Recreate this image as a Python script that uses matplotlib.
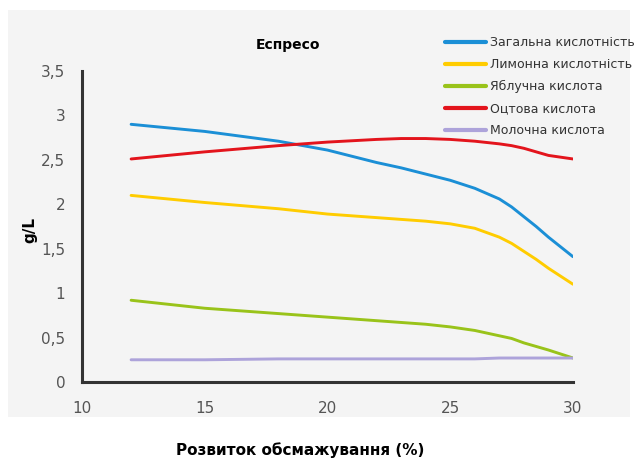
import matplotlib.pyplot as plt
from matplotlib.patches import Rectangle

# roast development (%) and acid content (g/L)
roast = [12, 15, 18, 20, 22, 23, 24, 25, 26, 27, 27.5, 28, 28.5, 29, 30]
total_acidity = [2.90, 2.82, 2.71, 2.61, 2.47, 2.41, 2.34, 2.27, 2.18, 2.06, 1.97, 1.86,
                 1.75, 1.63, 1.41]
citric_acid = [2.10, 2.02, 1.95, 1.89, 1.85, 1.83, 1.81, 1.78, 1.73, 1.63, 1.56, 1.47,
               1.38, 1.28, 1.10]
malic_acid = [0.92, 0.83, 0.77, 0.73, 0.69, 0.67, 0.65, 0.62, 0.58, 0.52, 0.49, 0.44,
              0.40, 0.36, 0.27]
acetic_acid = [2.51, 2.59, 2.66, 2.70, 2.73, 2.74, 2.74, 2.73, 2.71, 2.68, 2.66, 2.63,
               2.59, 2.55, 2.51]
lactic_acid = [0.25, 0.25, 0.26, 0.26, 0.26, 0.26, 0.26, 0.26, 0.26, 0.27, 0.27, 0.27,
               0.27, 0.27, 0.27]

labels = ["Загальна кислотність", "Лимонна кислотність", "Яблучна кислота",
          "Оцтова кислота", "Молочна кислота"]
colors = ["#1b8fd6", "#ffcc00", "#99c31a", "#e3141c", "#ada3da"]
xticks = [10, 15, 20, 25, 30]
yticks = [0, 0.5, 1, 1.5, 2, 2.5, 3, 3.5]
ytick_labels = ["0", "0,5", "1", "1,5", "2", "2,5", "3", "3,5"]

plt.rcParams["font.family"] = ["DejaVu Sans"]

fig = plt.figure(figsize=(6.36, 4.59), dpi=100)
fig.patch.set_facecolor("white")
# light grey panel behind the plot
fig.patches.append(Rectangle((8 / 636, 42 / 459), 622 / 636, 407 / 459,
                             transform=fig.transFigure, facecolor="#f4f4f4",
                             edgecolor="none", zorder=-5))

ax = fig.add_axes([82 / 636, 77 / 459, 491 / 636, 311 / 459])
ax.set_facecolor("none")

series = [total_acidity, citric_acid, malic_acid, acetic_acid, lactic_acid]
for ys, lab, c in zip(series, labels, colors):
    ax.plot(roast, ys, color=c, lw=2.1, label=lab,
            solid_joinstyle="round", solid_capstyle="round")

ax.set_xlim(10, 30)
ax.set_ylim(0, 3.5)
ax.set_xticks(xticks)
ax.set_yticks(yticks)
ax.set_yticklabels(ytick_labels)
ax.tick_params(length=0, labelsize=11, colors="#555555")
ax.tick_params(axis="x", pad=14)
ax.tick_params(axis="y", pad=12)
for side in ["top", "right"]:
    ax.spines[side].set_visible(False)
for side in ["left", "bottom"]:
    ax.spines[side].set_color("#333333")
    ax.spines[side].set_linewidth(2.2)

ax.set_title("Еспресо", fontsize=10, fontweight="bold", pad=16, x=0.42)
fig.text(30 / 636, 1 - 230 / 459, "g/L", rotation=90, fontsize=11,
         fontweight="bold", ha="center", va="center")
fig.text(300 / 636, 1 - 450 / 459, "Розвиток обсмажування (%)", fontsize=11,
         fontweight="bold", ha="center", va="center")

leg = fig.legend(loc="upper left", bbox_to_anchor=(445 / 636, 1 - 36 / 459),
                 frameon=False, fontsize=9, handlelength=3.3, handletextpad=0.3,
                 labelspacing=0.72, borderaxespad=0, borderpad=0)
for t in leg.get_texts():
    t.set_color("#333333")
for line in leg.get_lines():
    line.set_linewidth(3)

fig.savefig("out.png", dpi=100)
